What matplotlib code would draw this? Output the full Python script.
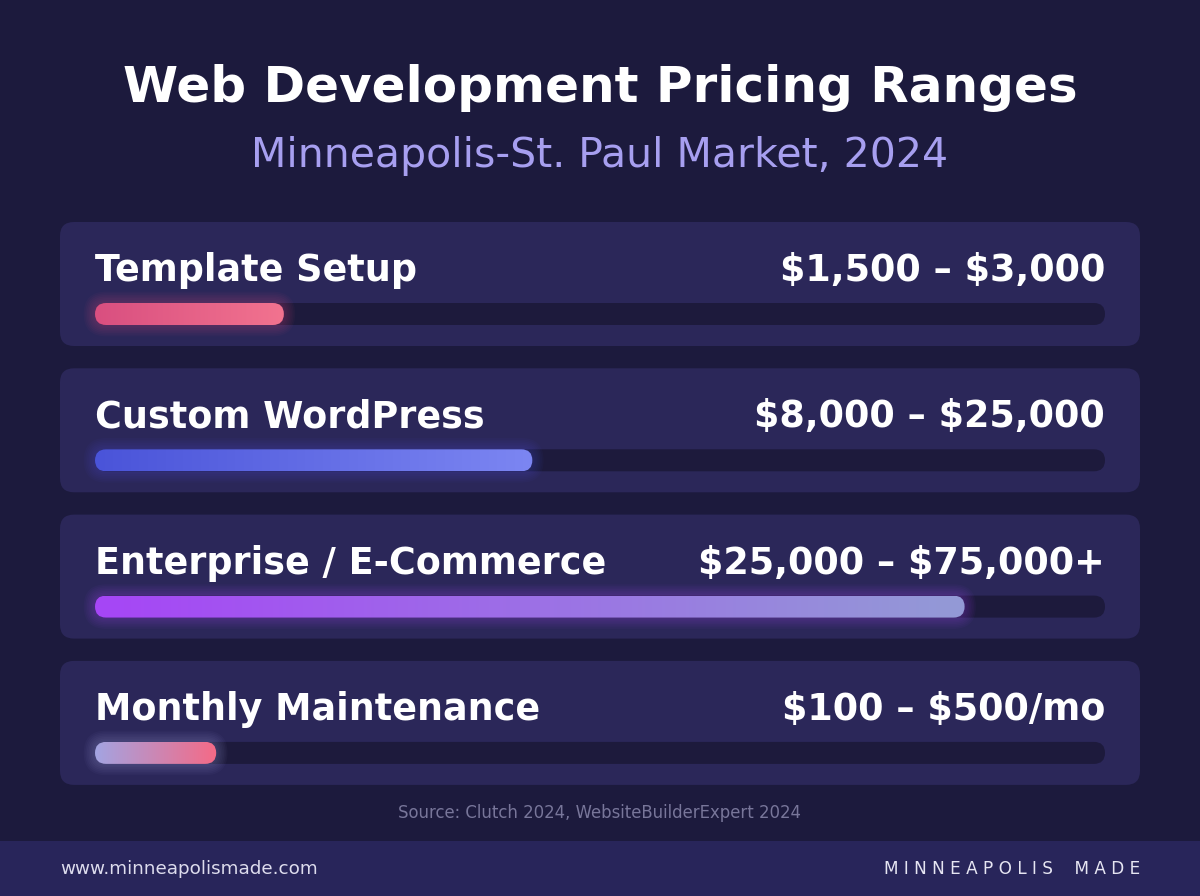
import numpy as np
import matplotlib.pyplot as plt
from matplotlib.patches import FancyBboxPatch
from matplotlib.colors import LinearSegmentedColormap

# --- DATA ---
categories = ["Template Setup", "Custom WordPress", "Enterprise / E-Commerce", "Monthly Maintenance"]
price_labels = ["$1,500 – $3,000", "$8,000 – $25,000", "$25,000 – $75,000+", "$100 – $500/mo"]
fill_pct = [18.7, 43.3, 86.1, 12.0]   # bar length, % of track
bar_colors = [("#d94f80", "#f2738f"),
              ("#4a54d9", "#7c86f2"),
              ("#a646f6", "#939ad6"),
              ("#a3a4e2", "#f56a86")]

title = "Web Development Pricing Ranges"
subtitle = "Minneapolis-St. Paul Market, 2024"
source = "Source: Clutch 2024, WebsiteBuilderExpert 2024"
site = "www.minneapolismade.com"
brand = "MINNEAPOLIS MADE"

BG = "#1c1a3d"
CARD = "#2b2759"
TRACK = "#1d1a3c"
FONT = ["DejaVu Sans"]

W, H = 1200, 896
fig = plt.figure(figsize=(W / 100, H / 100), dpi=100, facecolor=BG)
ax = fig.add_axes([0, 0, 1, 1])
ax.set_xlim(0, W)
ax.set_ylim(H, 0)
ax.axis("off")
ax.set_facecolor(BG)

# header
ax.text(W / 2, 102, title, ha="center", va="baseline", color="white",
        fontsize=36, fontweight="bold", family=FONT)
ax.text(W / 2, 167, subtitle, ha="center", va="baseline", color="#a79ff0",
        fontsize=29.5, family=FONT)

card_top0, card_step, card_h = 222, 146.3, 124
track_x0, track_w, bar_px = 95, 1010, 22

for i, (cat, lab, pct, cols) in enumerate(zip(categories, price_labels, fill_pct, bar_colors)):
    top = card_top0 + i * card_step
    ax.add_patch(FancyBboxPatch((60, top), 1080, card_h,
                                boxstyle="round,pad=0,rounding_size=14",
                                fc=CARD, ec="none"))
    ax.text(track_x0, top + 59, cat, ha="left", va="baseline", color="white",
            fontsize=26.3, fontweight="bold", family=FONT, parse_math=False)
    ax.text(track_x0 + track_w, top + 59, lab, ha="right", va="baseline", color="white",
            fontsize=26.3, fontweight="bold", family=FONT, parse_math=False)

    # bar axes, x in percent of track, equal pixel aspect
    cy = top + 92
    half_px = 20
    bax = fig.add_axes([track_x0 / W, (H - cy - half_px) / H, track_w / W, 2 * half_px / H])
    ylim = half_px * 100 / track_w
    h = bar_px * 100 / track_w
    bax.axis("off")
    bax.add_patch(FancyBboxPatch((0, -h / 2), 100, h,
                                 boxstyle=f"round,pad=0,rounding_size={h / 2}",
                                 fc=TRACK, ec="none", zorder=1))
    # glow
    for k in range(1, 8):
        p = k * 0.16
        bax.add_patch(FancyBboxPatch((-p, -h / 2 - p), pct + 2 * p, h + 2 * p,
                                     boxstyle=f"round,pad=0,rounding_size={h / 2 + p}",
                                     fc=cols[0], ec="none", alpha=0.04, clip_on=False, zorder=2))
    fill = FancyBboxPatch((0, -h / 2), pct, h,
                          boxstyle=f"round,pad=0,rounding_size={h / 2}",
                          fc="none", ec="none")
    bax.add_patch(fill)
    cmap = LinearSegmentedColormap.from_list(f"g{i}", cols)
    im = bax.imshow(np.linspace(0, 1, 256)[None, :], cmap=cmap, aspect="auto",
                    extent=[0, pct, -h / 2, h / 2], interpolation="bilinear", zorder=3)
    im.set_clip_path(fill)
    bax.set_xlim(0, 100)
    bax.set_ylim(-ylim, ylim)

ax.text(W / 2, 813, source, ha="center", va="center", color="#78769a",
        fontsize=11.9, family=FONT)

# footer band
ax.add_patch(plt.Rectangle((0, 841), W, H - 841, fc="#28255a", ec="none"))
ax.text(60, 869, site, ha="left", va="center", color="#dddced",
        fontsize=13.2, family=FONT)
ax.text(1140, 869, " ".join(brand).replace("   ", "    "), ha="right", va="center",
        color="#e6e5f2", fontsize=12.2, family=FONT)

fig.savefig("out.png", dpi=100, facecolor=BG)
